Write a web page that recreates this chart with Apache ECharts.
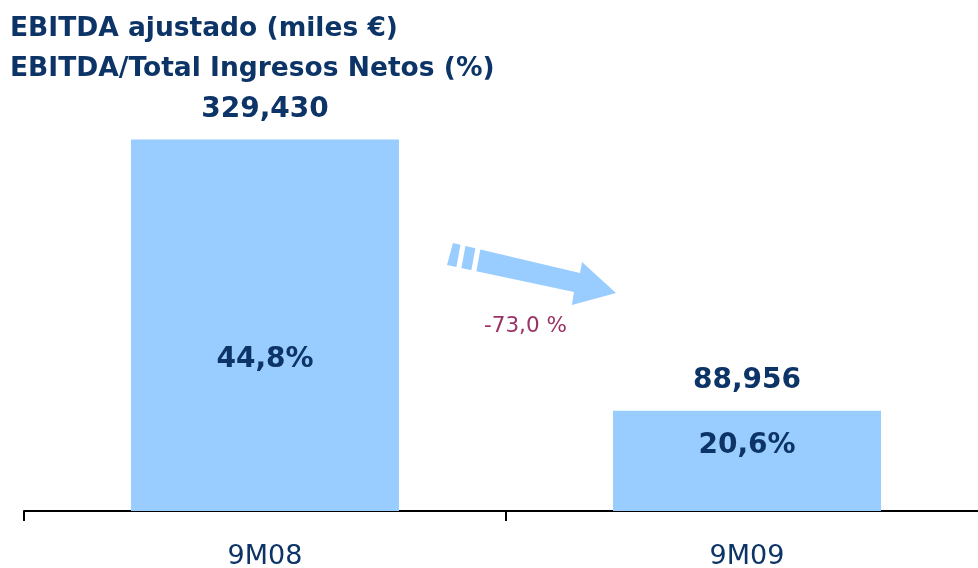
<!DOCTYPE html>
<html>
<head>
<meta charset="utf-8">
<script src="https://cdn.jsdelivr.net/npm/echarts@6/dist/echarts.min.js"></script>
<style>
  html, body { margin: 0; padding: 0; background: #fff; }
  #chart { width: 978px; height: 568px; }
</style>
</head>
<body>
<div id="chart"></div>
<script>
// datos
var periods = ['9M08', '9M09'];
var ebitda = [329430, 88956];
var ebitdaLabels = ['329,430', '88,956'];
var marginLabels = ['44,8%', '20,6%'];
var changeLabel = '-73,0 %';

var NAVY = '#0d3466';
var BAR = '#99ccff';
var FONT = 'DejaVu Sans';

function initChart() {
  var myChart = echarts.init(document.getElementById('chart'));

  // offset del % dentro de cada barra (px desde arriba)
  var pctDist = [206, 21];
  var pctData = [];
  $each(ebitda, function (i, v) {
    pctData.push({
      value: v,
      label: { position: 'insideTop', distance: pctDist[i], formatter: marginLabels[i] }
    });
  });

  var option = {
    animation: false,
    grid: { left: 24, right: -10, top: 60, bottom: 57, outerBoundsMode: 'none', containLabel: false },
    graphic: [
      {
        type: 'text', left: 10, top: 16,
        style: { text: 'EBITDA ajustado (miles €)', fill: NAVY, font: 'bold 26.5px ' + FONT }
      },
      {
        type: 'text', left: 10, top: 56,
        style: { text: 'EBITDA/Total Ingresos Netos (%)', fill: NAVY, font: 'bold 26.5px ' + FONT }
      },
      {
        type: 'polygon',
        shape: { points: [[453, 243], [580, 273], [582, 262], [616, 293], [572, 305], [574, 292], [447, 265]] },
        style: { fill: BAR }
      },
      {
        type: 'polygon',
        shape: { points: [[461, 242], [466, 243], [461, 270], [456, 269]] },
        style: { fill: '#fff' }
      },
      {
        type: 'polygon',
        shape: { points: [[476, 245], [481, 246], [476, 273], [471, 272]] },
        style: { fill: '#fff' }
      },
      {
        type: 'text', left: 484, top: 315,
        style: { text: changeLabel, fill: '#993366', font: '21.5px ' + FONT }
      }
    ],
    xAxis: {
      type: 'category',
      data: periods,
      axisLine: { show: true, lineStyle: { color: '#000', width: 2 } },
      axisTick: { show: true, length: 10, lineStyle: { color: '#000', width: 2 } },
      axisLabel: { color: NAVY, fontSize: 27, fontFamily: FONT, margin: 32 }
    },
    yAxis: {
      type: 'value',
      min: 0,
      max: 400000,
      show: false
    },
    series: [
      {
        type: 'bar',
        data: ebitda,
        barWidth: 268,
        itemStyle: { color: BAR },
        label: {
          show: true,
          position: 'top',
          distance: 16,
          color: NAVY,
          fontSize: 28,
          fontWeight: 'bold',
          fontFamily: FONT,
          formatter: function (p) { return ebitdaLabels[p.dataIndex]; }
        }
      },
      {
        type: 'bar',
        data: pctData,
        barWidth: 268,
        barGap: '-100%',
        itemStyle: { color: 'rgba(0,0,0,0)' },
        label: {
          show: true,
          color: NAVY,
          fontSize: 28,
          fontWeight: 'bold',
          fontFamily: FONT
        }
      }
    ]
  };
  myChart.setOption(option);
}

function $each(arr, fn) {
  for (var i = 0; i < arr.length; i++) fn(i, arr[i]);
}

initChart();
</script>
</body>
</html>
